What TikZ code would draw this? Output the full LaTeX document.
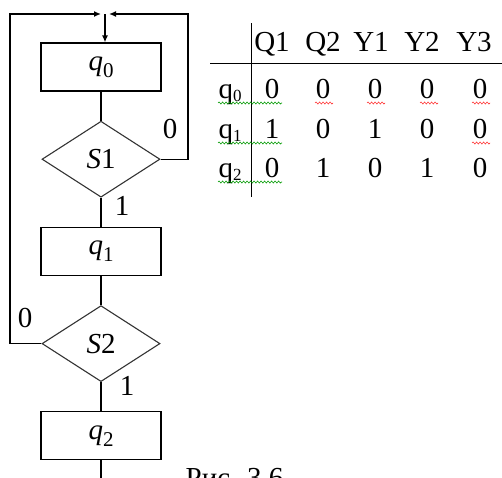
\documentclass[tikz,border=0pt]{standalone}
\usepackage{fontspec}
\setmainfont{Liberation Serif}
\usepackage{tikz}
\usetikzlibrary{positioning,calc,arrows.meta,shapes.geometric,decorations.pathmorphing}

\newcommand{\stname}[1]{\textit{q}\raisebox{-0.25em}{\fontsize{21}{21}\selectfont #1}}
\newcommand{\rowname}[1]{q\raisebox{-0.12em}{\fontsize{17}{17}\selectfont #1}}

\begin{document}
\begin{tikzpicture}[x=1pt,y=-1pt,line width=1.3pt,node distance=29pt,
font=\fontsize{29}{34}\selectfont,
box/.style={rectangle,draw,minimum width=120pt,minimum height=48pt,inner sep=0pt},
cond/.style={diamond,draw=black!80,line width=1.1pt,minimum width=118pt,minimum height=76pt,inner sep=0pt},
edge/.style = {->,-{Latex[length=7pt,width=6pt]}},
lbl/.style={inner sep=0pt,anchor=base},
spell/.style={decorate,decoration={snake,amplitude=1pt,segment length=3.5pt},line width=0.6pt}]

\clip (0,0) rectangle (502,477);

% nodes
\node[box](q0) at (101,67){\stname{0}};
\node[cond,below=of q0](s1){\textit{S}1};
\node[box,below=of s1](q1){\stname{1}};
\node[cond,below=of q1](s2){\textit{S}2};
\node[box,below=of s2](q2){\stname{2}};

\coordinate (j) at (105,14);
\coordinate (rt) at (188,14);
\coordinate (lt) at (10,14);
\coordinate (out) at (101,490);

% edges
\draw (q0.south) -- (s1.north);
\draw (s1.south) -- (q1.north);
\draw (q1.south) -- (s2.north);
\draw (s2.south) -- (q2.north);
\draw (q2.south) -- (out);
\draw[edge,shorten >=4pt] (s1.east) -- (s1.east -| rt) -- (rt) -- (j);
\draw[edge,shorten >=4pt] (s2.west) -- (s2.west -| lt) -- (lt) -- (j);
\draw[edge] (j) -- (j |- q0.north);

% edge labels
\node[lbl](s1no) at (170,138){0};
\node[lbl](s1yes) at (122,215){1};
\node[lbl](s2no) at (25,327){0};
\node[lbl](s2yes) at (127,395){1};

% table
\draw[line width=1pt] (251,23) -- (251,197);
\draw[line width=1pt] (210,63) -- (502,63);
\foreach \t/\x in {Q1/272,Q2/323,Y1/371,Y2/422,Y3/474}
  \node[lbl](h\t) at (\x,51){\t};
\foreach \r/\y/\a/\b/\c/\d/\e in {0/98/0/0/0/0/0,1/138/1/0/1/0/0,2/177/0/1/0/1/0}{
  \node[lbl,anchor=base west](r\r) at (218,\y){\rowname{\r}};
  \node[lbl](v\r a) at (272,\y){\a};
  \node[lbl](v\r b) at (323,\y){\b};
  \node[lbl](v\r c) at (375,\y){\c};
  \node[lbl](v\r d) at (427,\y){\d};
  \node[lbl](v\r e) at (480,\y){\e};
}

% spelling marks
\foreach \y in {103,143,182}
  \draw[spell,green!60!black] (218,\y) -- (282,\y);
\foreach \x/\y in {315/103,367/103,420/103,472/103,472/143}
  \draw[spell,red!80] (\x,\y) -- ++(18,0);

% caption
\node[lbl,anchor=base west](cap) at (185,487){Рис. 3.6};
\end{tikzpicture}
\end{document}
